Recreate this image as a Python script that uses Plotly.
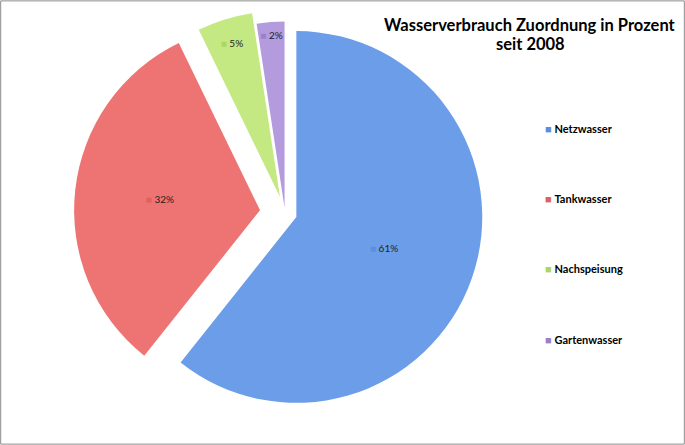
import plotly.graph_objects as go

categories = ["Netzwasser", "Tankwasser", "Nachspeisung", "Gartenwasser"]
values = [60.7, 32.1, 4.8, 2.4]
pulls = [0.065, 0.135, 0.09, 0.03]
colors = ["#6C9DE9", "#EE7474", "#C4E983", "#B39BDD"]
key_colors = ["#5B8EDF", "#E06060", "#A9D760", "#9B7FCC"]
title_lines = ["Wasserverbrauch Zuordnung in Prozent", "seit 2008"]

font_family = "Lato, 'Open Sans', sans-serif"

texttemplates = [
    f"<span style='color:{kc}'>■</span> " + "%{percent:.0%}" for kc in key_colors
]

fig = go.Figure()
fig.add_trace(go.Pie(
    labels=categories,
    values=values,
    sort=False,
    direction="clockwise",
    rotation=0,
    pull=pulls,
    marker=dict(colors=colors, line=dict(width=0)),
    texttemplate=texttemplates,
    textposition="inside",
    insidetextorientation="horizontal",
    textfont=dict(family=font_family, size=10, color="#222222"),
    domain=dict(x=[0.108, 0.724], y=[0.0472, 0.9955]),
    showlegend=False,
    hoverinfo="label+percent",
))

# legend drawn as annotations
legend_y = [0.712, 0.555, 0.397, 0.238]
for cat, kc, yy in zip(categories, key_colors, legend_y):
    fig.add_annotation(
        x=0.792, y=yy, xref="paper", yref="paper", xanchor="left", yanchor="middle",
        showarrow=False,
        text=f"<span style='color:{kc}'>■</span> <b>{cat}</b>",
        font=dict(family=font_family, size=11, color="#000000"),
    )

for line, yy in zip(title_lines, [0.944, 0.902]):
    fig.add_annotation(
        x=0.774, y=yy, xref="paper", yref="paper", xanchor="center", yanchor="middle",
        showarrow=False, text=f"<b>{line}</b>",
        font=dict(family=font_family, size=16.5, color="#000000"),
    )

fig.add_shape(type="rect", xref="paper", yref="paper", x0=0.001, y0=0.002, x1=0.999, y1=0.998,
              line=dict(color="#8C8C8C", width=1))

fig.update_layout(
    width=685, height=445,
    margin=dict(l=0, r=0, t=0, b=0),
    paper_bgcolor="white", plot_bgcolor="white",
)

fig.write_html(
    "out.html",
    config={"displayModeBar": False},
    post_script="document.body.style.margin='0';document.body.style.padding='0';document.body.style.overflow='hidden';",
)
